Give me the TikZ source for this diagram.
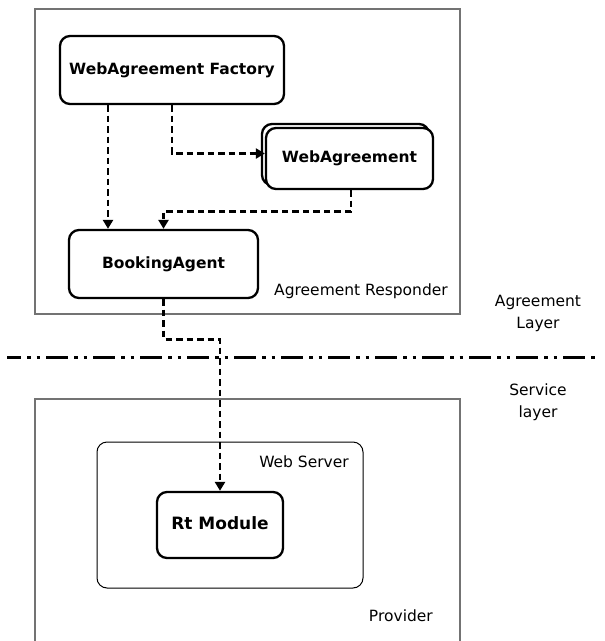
\documentclass[tikz,border=0pt]{standalone}
\usepackage{fontspec}
\setmainfont{DejaVu Sans}
\usetikzlibrary{arrows.meta,calc}

\tikzset{
  region/.style={draw=black!55, line width=1.5pt},
  comp/.style={draw=black, line width=2.3pt, rounded corners=10pt, fill=white,
    font=\fontsize{15.5}{18}\selectfont\bfseries, inner sep=0pt},
  flow/.style={line width=2.7pt, dash pattern=on 6.5pt off 4pt,
    -{Triangle[length=9pt,width=10pt]}},
  plain/.style={font=\fontsize{15.5}{22}\selectfont, inner sep=0pt},
  layerline/.style={line width=3pt,
    dash pattern=on 22pt off 6pt on 3.5pt off 6pt on 3.5pt off 6pt, dash phase=8pt},
}

\begin{document}
\begin{tikzpicture}[x=1pt,y=-1pt]
  \useasboundingbox (0,0) rectangle (605,641);

  % Agreement layer: responder region
  \draw[region] (35,9) rectangle (460,314);
  \node[plain, anchor=east] (resp) at (448,291) {Agreement Responder};

  % components of the responder
  \node[comp, minimum width=224pt, minimum height=68pt] (factory) at (172,70)
    {\raisebox{3pt}{WebAgreement Factory}};
  \node[comp, minimum width=167pt, minimum height=61pt] (waback) at (345.5,154.5) {};
  \node[comp, minimum width=167pt, minimum height=61pt] (wa) at (349.5,158.5)
    {\raisebox{3pt}{WebAgreement}};
  \node[comp, minimum width=189pt, minimum height=68pt] (booking) at (163.5,264)
    {\raisebox{3pt}{BookingAgent}};

  % boundary between the two layers
  \coordinate (lineL) at (7,357);
  \coordinate (lineR) at (600,357);
  \draw[layerline] (lineL) -- (lineR);
  \node[plain, align=center] (alayer) at (538,313) {Agreement\\Layer};
  \node[plain, align=center] (slayer) at (538,402) {Service\\layer};

  % Service layer: provider region (open at the bottom)
  \draw[region] (35,641) -- (35,399) -- (460,399) -- (460,641);
  \node[plain, anchor=east] (prov) at (433,616) {Provider};

  \draw[line width=1pt, rounded corners=10pt] (97,442) rectangle (363,588);
  \node[plain, anchor=east] (web) at (349,462) {Web Server};

  \node[comp, minimum width=126pt, minimum height=66pt,
    font=\fontsize{17}{20}\selectfont\bfseries] (rt) at (220,525)
    {\raisebox{3pt}{Rt Module}};

  % dependencies
  \draw[flow] ([xshift=-64pt]factory.south) -- ([xshift=-64pt]factory.south |- booking.north);
  \draw[flow] (factory.south) |- ([yshift=5pt]wa.west);
  \draw[flow] ([xshift=1.5pt]wa.south) -- ++(0,21) -| (booking.north);
  \draw[flow] (booking.south) -- ++(0,40) -| (rt.north);
\end{tikzpicture}
\end{document}
